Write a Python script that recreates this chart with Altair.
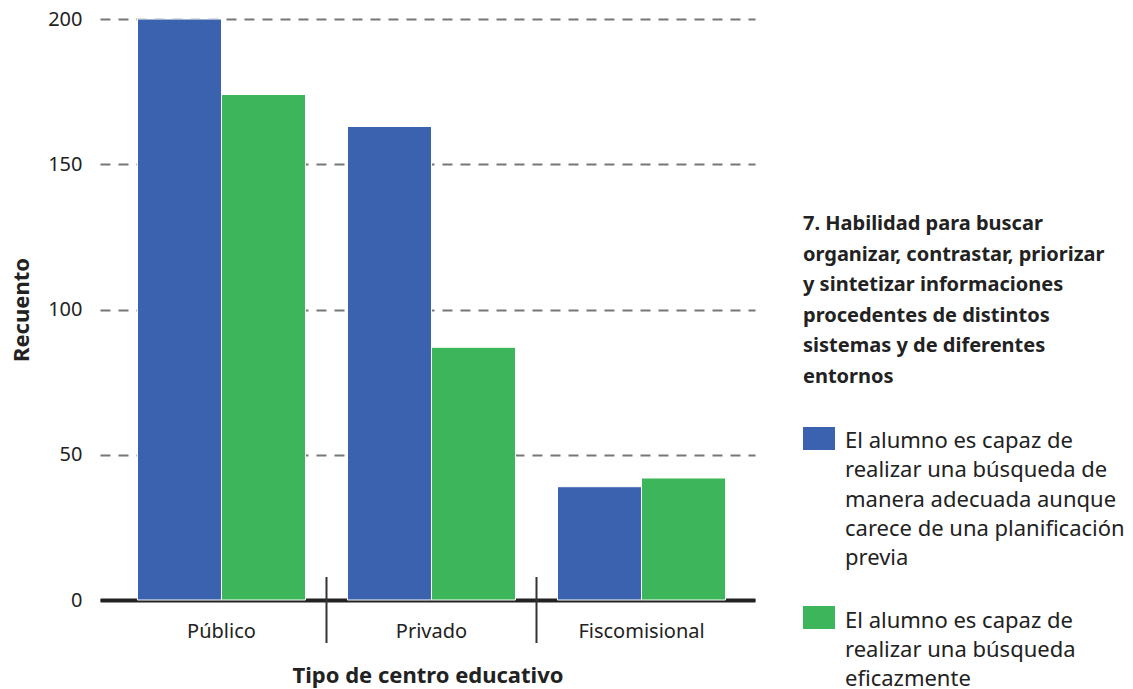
import altair as alt
import pandas as pd

# ---- data ----
categories = ["Público", "Privado", "Fiscomisional"]
series = [
    "El alumno es capaz de realizar una búsqueda de manera adecuada aunque carece de una planificación previa",
    "El alumno es capaz de realizar una búsqueda eficazmente",
]
series_lines = [
    ["El alumno es capaz de", "realizar una búsqueda de", "manera adecuada aunque",
     "carece de una planificación", "previa"],
    ["El alumno es capaz de", "realizar una búsqueda", "eficazmente"],
]
blue_values = [200, 163, 39]
green_values = [174, 87, 42]
colors = ["#3A62AE", "#3DB65B"]
legend_title = ["7. Habilidad para buscar", "organizar, contrastar, priorizar",
                "y sintetizar informaciones", "procedentes de distintos",
                "sistemas y de diferentes", "entornos"]
y_ticks = [0, 50, 100, 150, 200]
separators = ["Privado", "Fiscomisional"]

rows = []
for c, b, g in zip(categories, blue_values, green_values):
    rows.append({"cat": c, "serie": series[0], "n": b})
    rows.append({"cat": c, "serie": series[1], "n": g})
df = pd.DataFrame(rows)

FONT = "Noto Sans"
TXT = "#222222"

x_scale = alt.Scale(domain=categories, paddingInner=0, paddingOuter=0.0595, align=0.66)
x_axis = alt.Axis(title="Tipo de centro educativo", labelAngle=0, ticks=False,
                  domainColor=TXT, domainWidth=4, labelFontSize=20,
                  labelColor=TXT, labelPadding=21, titleFontSize=22,
                  titleFontWeight="bold", titleColor=TXT, titlePadding=24)

bars = alt.Chart(df).mark_bar(stroke="white", strokeWidth=1).encode(
    x=alt.X("cat:N", sort=categories, scale=x_scale, axis=x_axis),
    xOffset=alt.XOffset("serie:N", sort=series,
                        scale=alt.Scale(domain=series, paddingOuter=0.25, paddingInner=0)),
    y=alt.Y("n:Q", scale=alt.Scale(domain=[0, 200], nice=False),
            axis=alt.Axis(title="Recuento", values=y_ticks, domain=False, ticks=False,
                          grid=True, gridDash=[10, 8], gridColor="#777777", gridWidth=2,
                          labelFontSize=20, labelColor=TXT, labelPadding=18,
                          titleFontSize=22, titleFontWeight="bold", titleColor=TXT,
                          titlePadding=14)),
    color=alt.Color("serie:N", sort=series,
                    scale=alt.Scale(domain=series, range=colors), legend=None),
)

seps = alt.Chart(pd.DataFrame({"cat": separators})).mark_rule(
    color="#333333", strokeWidth=2
).encode(
    x=alt.X("cat:N", sort=categories, scale=x_scale, bandPosition=0, axis=x_axis),
    y=alt.value(558),
    y2=alt.value(624),
)

one = pd.DataFrame({"k": [0]})

leg_title = alt.Chart(one).mark_text(
    text=legend_title, align="left", baseline="alphabetic", font=FONT,
    fontSize=20, fontWeight="bold", color=TXT, lineHeight=30.5
).encode(x=alt.value(703), y=alt.value(211))

sym1 = alt.Chart(one).mark_rect(color=colors[0]).encode(
    x=alt.value(703), x2=alt.value(735), y=alt.value(408), y2=alt.value(431))
sym2 = alt.Chart(one).mark_rect(color=colors[1]).encode(
    x=alt.value(703), x2=alt.value(735), y=alt.value(587), y2=alt.value(610))

lab1 = alt.Chart(one).mark_text(
    text=series_lines[0], align="left", baseline="alphabetic", font=FONT,
    fontSize=22, color=TXT, lineHeight=29.3
).encode(x=alt.value(745), y=alt.value(429))
lab2 = alt.Chart(one).mark_text(
    text=series_lines[1], align="left", baseline="alphabetic", font=FONT,
    fontSize=22, color=TXT, lineHeight=29.3
).encode(x=alt.value(745), y=alt.value(608.5))

chart = alt.layer(bars, seps, leg_title, sym1, sym2, lab1, lab2).properties(
    width=655, height=581,
    padding={"left": 2, "top": 1, "right": 0, "bottom": 0},
).configure(font=FONT).configure_view(stroke=None)

chart.save("out.html", embed_options={"renderer": "svg", "actions": False})
